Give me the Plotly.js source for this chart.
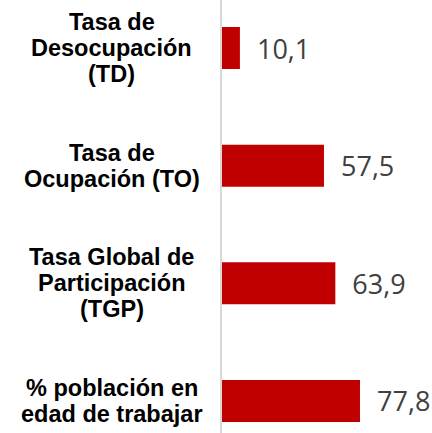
<!DOCTYPE html>
<html>
<head>
<meta charset="utf-8">
<script src="https://cdn.plot.ly/plotly-3.0.1.min.js"></script>
<style>
  html, body { margin: 0; padding: 0; background: #ffffff; }
  #chart { width: 432px; height: 433px; }
</style>
</head>
<body>
<div id="chart"></div>
<script>
// Data
var categories = [
  "Tasa de<br>Desocupación<br>(TD)",
  "Tasa de<br>Ocupación (TO)",
  "Tasa Global de<br>Participación<br>(TGP)",
  "% población en<br>edad de trabajar"
];
var values = [10.1, 57.5, 63.9, 77.8];

var barColor = "#c00000";
var lineSpacing = 26;

var trace = {
  type: "bar",
  orientation: "h",
  y: categories,
  x: values,
  marker: { color: barColor, line: { width: 0 } },
  texttemplate: "\u00a0\u00a0%{x:.1f}",
  textposition: "outside",
  constraintext: "none",
  cliponaxis: false,
  textfont: { family: "Open Sans, sans-serif", size: 27, color: "#404040" },
  hoverinfo: "none"
};

// Category labels drawn as annotations (one per line) for tight line spacing
var annotations = [];
categories.forEach(function (cat) {
  var lines = cat.split("<br>");
  var n = lines.length;
  lines.forEach(function (ln, i) {
    annotations.push({
      xref: "paper", yref: "y",
      x: -0.525, y: cat,
      xanchor: "center", yanchor: "middle",
      yshift: ((n - 1) / 2 - i) * lineSpacing,
      text: ln,
      showarrow: false,
      font: { family: "Liberation Sans, Arial, sans-serif", size: 23.5, color: "#000000", weight: "bold" }
    });
  });
});

var layout = {
  width: 432,
  height: 433,
  margin: { l: 222, r: 0, t: 0, b: 0, pad: 0 },
  paper_bgcolor: "#ffffff",
  plot_bgcolor: "#ffffff",
  separators: ",.",
  showlegend: false,
  bargap: 0.643,
  xaxis: {
    range: [0, 118.4],
    visible: false,
    fixedrange: true
  },
  yaxis: {
    type: "category",
    categoryorder: "array",
    categoryarray: categories,
    range: [3.272, -0.408],
    showticklabels: false,
    ticks: "",
    showgrid: false,
    zeroline: false,
    showline: true,
    linecolor: "#d9d9d9",
    linewidth: 2,
    fixedrange: true
  },
  annotations: annotations
};

Plotly.newPlot("chart", [trace], layout, { displayModeBar: false, staticPlot: true });
</script>
</body>
</html>
